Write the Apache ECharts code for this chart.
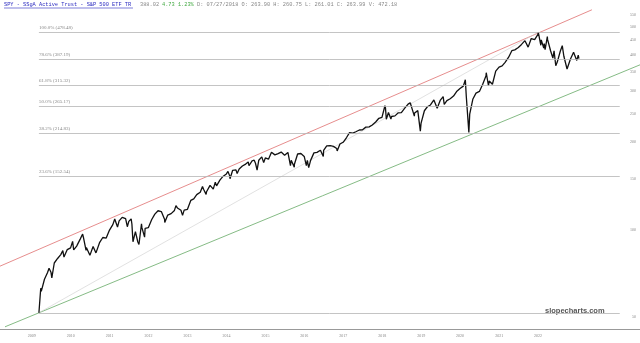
<!DOCTYPE html>
<html><head><meta charset="utf-8">
<script src="https://cdn.jsdelivr.net/npm/echarts@6/dist/echarts.min.js"></script>
<style>html,body{margin:0;padding:0;background:#fff}#c{width:640px;height:343px}</style>
</head><body><div id="c"></div>
<script>
const priceDates = [
'2009-03-09','2009-03-26','2009-03-31','2009-04-30','2009-05-29','2009-06-12','2009-06-30','2009-07-08','2009-07-31','2009-08-31','2009-09-30','2009-10-19','2009-10-30','2009-11-30','2009-12-31',
'2010-01-19','2010-01-29','2010-02-08','2010-02-26','2010-03-31','2010-04-23','2010-04-30','2010-05-25','2010-05-28','2010-06-30','2010-07-02','2010-07-30','2010-08-26','2010-08-31','2010-09-30','2010-10-29','2010-11-30','2010-12-31',
'2011-01-31','2011-02-18','2011-02-28','2011-03-16','2011-03-31','2011-04-29','2011-05-31','2011-06-16','2011-06-30','2011-07-22','2011-07-29','2011-08-08','2011-08-31','2011-09-22','2011-09-30','2011-10-03','2011-10-27','2011-10-31','2011-11-25','2011-11-30','2011-12-30',
'2012-01-31','2012-02-29','2012-03-30','2012-04-30','2012-05-31','2012-06-01','2012-06-29','2012-07-31','2012-08-31','2012-09-14','2012-09-28','2012-10-31','2012-11-15','2012-11-30','2012-12-31',
'2013-01-31','2013-02-28','2013-03-28','2013-04-30','2013-05-21','2013-05-31','2013-06-24','2013-06-28','2013-07-31','2013-08-30','2013-09-18','2013-09-30','2013-10-31','2013-11-29','2013-12-31',
'2014-01-15','2014-01-31','2014-02-03','2014-02-28','2014-03-31','2014-04-11','2014-04-30','2014-05-30','2014-06-30','2014-07-24','2014-07-31','2014-08-29','2014-09-18','2014-09-30','2014-10-15','2014-10-31','2014-11-28','2014-12-16','2014-12-31',
'2015-01-30','2015-02-27','2015-03-31','2015-04-30','2015-05-29','2015-06-30','2015-07-31','2015-08-24','2015-08-31','2015-09-29','2015-09-30','2015-10-30','2015-11-30','2015-12-31',
'2016-01-20','2016-01-29','2016-02-11','2016-02-29','2016-03-31','2016-04-29','2016-05-31','2016-06-27','2016-06-30','2016-07-29','2016-08-31','2016-09-30','2016-10-31','2016-11-04','2016-11-30','2016-12-30',
'2017-01-31','2017-02-28','2017-03-31','2017-04-28','2017-05-31','2017-06-30','2017-07-31','2017-08-31','2017-09-29','2017-10-31','2017-11-30','2017-12-29',
'2018-01-26','2018-01-31','2018-02-08','2018-02-28','2018-03-23','2018-03-29','2018-04-30','2018-05-31','2018-06-29','2018-07-31','2018-08-31','2018-09-20','2018-09-28','2018-10-29','2018-10-31','2018-11-30','2018-12-24','2018-12-31',
'2019-01-31','2019-02-28','2019-03-29','2019-04-30','2019-05-31','2019-06-28','2019-07-26','2019-07-31','2019-08-05','2019-08-30','2019-09-30','2019-10-31','2019-11-29','2019-12-31',
'2020-01-31','2020-02-19','2020-02-28','2020-03-23','2020-03-31','2020-04-30','2020-05-29','2020-06-30','2020-07-31','2020-08-31','2020-09-02','2020-09-23','2020-09-30','2020-10-30','2020-11-30','2020-12-31',
'2021-01-29','2021-02-26','2021-03-31','2021-04-30','2021-05-28','2021-06-30','2021-07-30','2021-08-31','2021-09-02','2021-09-30','2021-10-29','2021-11-30','2021-12-31',
'2022-01-03','2022-01-27','2022-01-31','2022-02-23','2022-02-28','2022-03-08','2022-03-29','2022-03-31','2022-04-29','2022-05-20','2022-05-31','2022-06-16','2022-06-30','2022-07-29','2022-08-16','2022-08-31','2022-09-30','2022-10-12','2022-10-31','2022-11-30','2022-12-13','2022-12-30',
'2023-01-13','2023-01-19'
];
const priceValues = [
51.86,63.0,61.4,67.6,71.3,73.8,71.5,68.4,76.9,79.7,82.2,84.8,80.6,85.5,86.7,
91.3,85.3,84.6,87.9,92.9,96.7,94.3,85.0,86.9,81.7,80.7,87.6,83.3,83.1,90.6,94.1,93.7,99.8,
104.2,108.9,107.9,102.2,107.3,110.4,109.2,102.5,106.9,109.0,104.7,91.0,98.6,91.0,91.7,89.0,104.9,101.7,94.4,101.2,101.7,
108.5,113.2,116.3,115.6,108.6,105.9,112.4,113.7,116.6,121.1,118.9,116.7,112.1,116.9,117.6,
126.2,127.8,132.1,134.6,141.0,137.8,132.4,135.2,142.2,138.0,145.9,141.6,148.2,152.6,155.7,
158.8,153.3,149.8,160.2,160.8,156.1,161.9,165.7,168.3,171.1,166.1,172.6,173.6,169.4,160.3,173.5,178.2,170.2,176.7,
175.0,184.8,181.0,182.9,185.1,180.6,184.6,166.3,173.4,164.3,168.0,182.3,183.0,178.8,
166.2,173.4,163.7,173.3,183.9,184.6,187.8,178.6,187.5,194.3,194.6,193.6,190.3,186.7,197.3,200.0,
207.7,215.9,215.2,217.4,220.4,220.8,225.5,226.0,229.3,234.8,241.9,243.7,
267.1,262.7,240.1,253.2,240.5,245.3,246.5,252.5,252.9,262.2,270.6,273.6,270.9,246.0,252.2,257.0,218.4,232.9,
256.7,265.0,268.7,279.6,261.8,278.6,287.2,282.8,269.9,278.2,282.3,288.4,298.9,306.1,
312.0,328.2,287.4,216.3,250.0,281.8,295.2,299.1,316.7,338.8,347.0,312.9,324.9,316.7,351.2,362.7,
366.4,376.6,392.3,413.1,415.8,423.8,434.1,447.1,448.7,424.8,454.7,451.0,470.2,
478.48,431.2,449.9,421.9,436.6,416.3,461.6,451.6,412.0,389.6,412.9,366.7,377.3,412.0,429.7,395.2,357.2,356.6,386.2,407.7,402.0,382.4,
398.5,388.0
];
const fibLabels = ['100.0% (478.48)','78.6% (387.19)','61.8% (315.32)','50.0% (265.17)','38.2% (214.83)','23.6% (152.54)',''];
const fibValues = [478.48,387.19,315.32,265.17,214.83,152.54,51.86];
const fibStart = '2009-03-09';
const fibEnd = '2024-02-06';
const yTicks = [50,100,150,200,250,300,350,400,450,500,550];
const yearTicks = ['2009','2010','2011','2012','2013','2014','2015','2016','2017','2018','2019','2020','2021','2022'];
const redLine = [['2008-03-09',75.0],['2023-05-21',571]];
const greenLine = [['2008-04-25',46.4],['2024-08-14',369.3]];
const grayLine = [['2009-03-09',51.86],['2022-01-03',478.48]];
const xMin = '2008-03-09', xMax = '2024-08-14';
const yMin = 45.6, yMax = 617;

const chart = echarts.init(document.getElementById('c'), null, {renderer:'canvas'});
const priceData = priceDates.map((d,i)=>[d, priceValues[i]]);
const fibData = fibValues.map((v,i)=>[
  {coord:[fibStart, v], label:{formatter: fibLabels[i]}},
  {coord:[fibEnd, v]}
]);
const yearData = yearTicks.map(y=>({value:[y+'-01-01', yMin], name:y}));
const yLabelData = yTicks.map(v=>({value:[xMax, v], name:String(v)}));
const hdrFont = '5.3px "Liberation Mono"';
chart.setOption({
  animation:false,
  backgroundColor:'#fff',
  grid:{left:0,right:0,top:0,bottom:14,containLabel:false},
  xAxis:{type:'time', min:xMin, max:xMax,
    axisLine:{show:true,lineStyle:{color:'#999',width:1}},
    axisTick:{show:false}, splitLine:{show:false}, axisLabel:{show:false}
  },
  yAxis:{type:'log', position:'right', min:yMin, max:yMax, logBase:10,
    axisLine:{show:false}, axisTick:{show:false}, splitLine:{show:false}, axisLabel:{show:false}
  },
  graphic:[
    {type:'text', left:4, top:2, style:{text:'SPY - SSgA Active Trust - S&P 500 ETF TR', fill:'#2a2ac0', font:hdrFont}},
    {type:'line', shape:{x1:4,y1:8,x2:133,y2:8}, style:{stroke:'#2a2ac0', lineWidth:0.6}},
    {type:'text', left:140, top:2, style:{text:'388.02', fill:'#888', font:hdrFont}},
    {type:'text', left:162, top:2, style:{text:'4.73 1.23%', fill:'#4a4', font:hdrFont}},
    {type:'text', left:197, top:2, style:{text:'D: 07/27/2018 O: 263.90 H: 260.75 L: 261.01 C: 263.99 V: 472.18', fill:'#888', font:hdrFont}},
    {type:'text', left:545, top:307, style:{text:'slopecharts.com', fill:'#555', font:'bold 7.5px "Liberation Sans"'}}
  ],
  series:[
    {type:'line', data:redLine, showSymbol:false, silent:true, lineStyle:{color:'#e07070',width:0.8}, z:1},
    {type:'line', data:greenLine, showSymbol:false, silent:true, lineStyle:{color:'#66aa66',width:0.8}, z:1},
    {type:'line', data:grayLine, showSymbol:false, silent:true, lineStyle:{color:'#cccccc',width:0.6}, z:1},
    {type:'line', data:priceData, showSymbol:false, silent:true, lineStyle:{color:'#111',width:1.3}, z:3,
      markLine:{silent:true, symbol:['none','none'], lineStyle:{color:'#b5b5b5',width:0.8,type:'solid'},
        label:{show:true, position:'insideStartTop', distance:[0,2], fontSize:5, color:'#888', fontFamily:'Liberation Serif'},
        data:fibData}
    },
    {type:'scatter', data:yearData, symbolSize:0, silent:true, clip:false, z:5,
      label:{show:true, position:'bottom', distance:5, formatter:'{b}', fontSize:4, color:'#666', fontFamily:'Liberation Serif'}},
    {type:'scatter', data:yLabelData, symbolSize:0, silent:true, clip:false, z:5,
      label:{show:true, position:'left', distance:4, formatter:'{b}', fontSize:4, color:'#666', fontFamily:'Liberation Serif'}}
  ]
});
</script></body></html>
